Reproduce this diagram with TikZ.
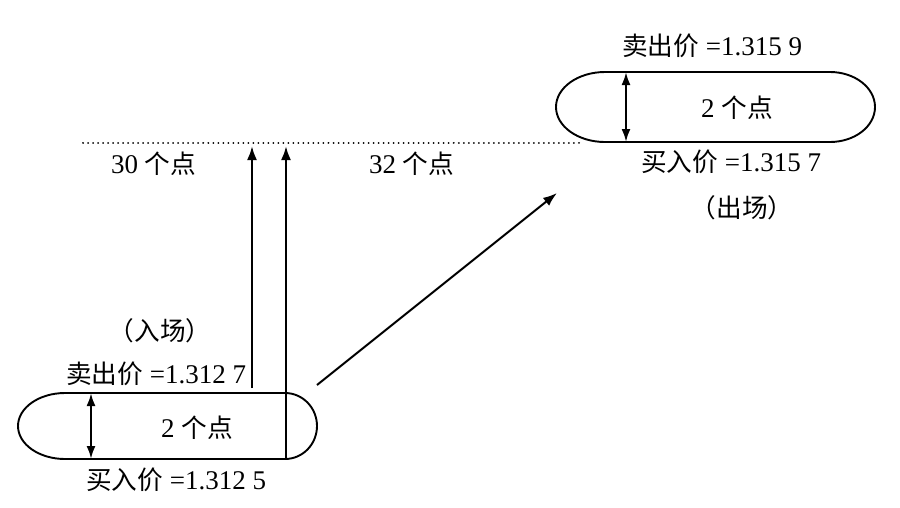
\documentclass[tikz,border=0pt]{standalone}
\usepackage{fontspec}
\setmainfont{Liberation Serif}
\newfontfamily\cjk{Noto Sans CJK SC}[Scale=0.95]
\usetikzlibrary{arrows.meta}
\begin{document}
\begin{tikzpicture}[x=1pt,y=-1pt,
  lbl/.style={inner sep=0pt,font=\fontsize{27}{31}\selectfont},
  stad/.style={line width=1.9pt},
  arr/.style={line width=2.4pt,-{Latex[length=14pt,width=10pt]}},
  darr/.style={line width=2.2pt,{Latex[length=13pt,width=9pt]}-{Latex[length=13pt,width=9pt]}},
  dots/.style={line width=2pt,dash pattern=on 0.01pt off 5pt,line cap=round}]
\useasboundingbox (0,0) rectangle (900,507);
% lower stadium
\draw[stad] (65,393) -- (285,393) arc[start angle=-90,end angle=90,x radius=32,y radius=33] -- (65,459) arc[start angle=90,end angle=270,x radius=47,y radius=33] -- cycle;
% upper stadium
\draw[stad] (605,72) -- (830,72) arc[start angle=-90,end angle=90,x radius=45,y radius=35] -- (605,142) arc[start angle=90,end angle=270,x radius=49,y radius=35] -- cycle;
% named points
\coordinate (la) at (91,393); \coordinate (lb) at (91,459);
\coordinate (ua) at (626,72); \coordinate (ub) at (626,142);
\coordinate (d1) at (83,143); \coordinate (d2) at (582,143);
\coordinate (v1b) at (252,388); \coordinate (v1t) at (252,146);
\coordinate (v2b) at (286,458); \coordinate (v2t) at (286,146);
\coordinate (ds) at (317,385); \coordinate (de) at (557,193);
\draw[darr] (la) -- (lb);
\draw[darr] (ua) -- (ub);
\draw[dots] (d1) -- (d2);
\draw[arr] (v1b) -- (v1t);
\draw[arr] (v2b) -- (v2t);
\draw[line width=2pt,-{Latex[length=14pt,width=10pt]}] (ds) -- (de);
% labels
\node[lbl] (l2) at (197,428) {2 {\cjk 个点}};
\node[lbl] (u2) at (737,108) {2 {\cjk 个点}};
\node[lbl,anchor=west] (ls) at (66,374) {{\cjk 卖出价} =1.312 7};
\node[lbl,anchor=west] (lbuy) at (86,480) {{\cjk 买入价} =1.312 5};
\node[lbl] (lin) at (160,331) {{\cjk （入场）}};
\node[lbl,anchor=west] (us) at (622,46) {{\cjk 卖出价} =1.315 9};
\node[lbl,anchor=west] (ubuy) at (641,162) {{\cjk 买入价} =1.315 7};
\node[lbl] (uout) at (742,208) {{\cjk （出场）}};
\node[lbl,anchor=west] (t30) at (111,164) {30 {\cjk 个点}};
\node[lbl,anchor=west] (t32) at (369,164) {32 {\cjk 个点}};
\end{tikzpicture}
\end{document}
